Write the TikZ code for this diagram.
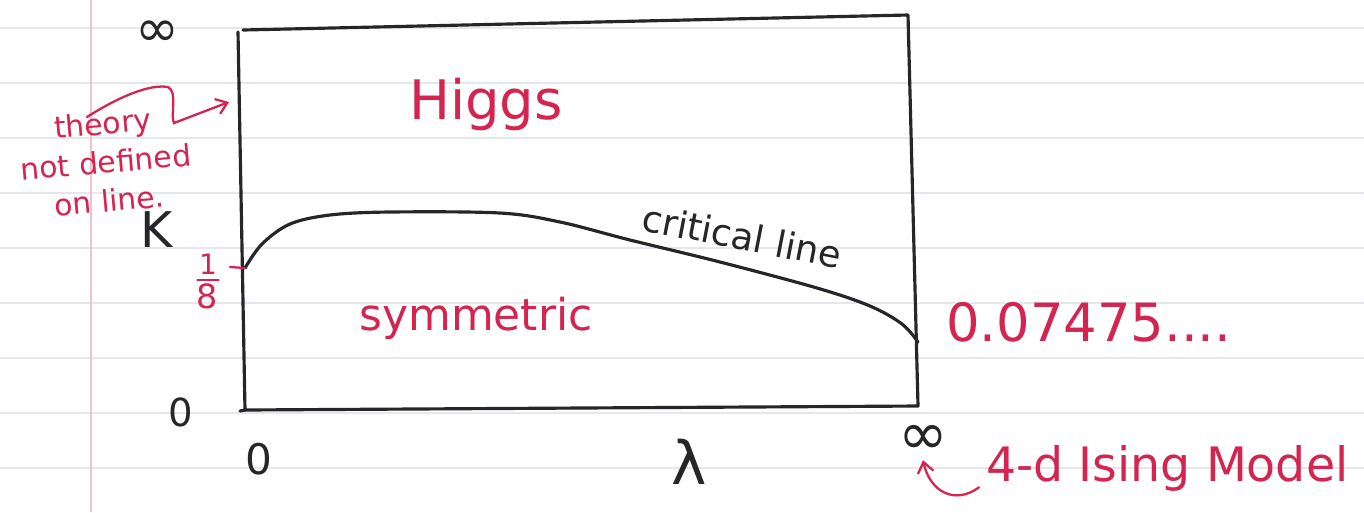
\documentclass[tikz,border=0pt]{standalone}
\usepackage{fontspec}
\setsansfont{DejaVu Sans}
\usetikzlibrary{arrows.meta, positioning}
\definecolor{ink}{RGB}{38,38,40}
\definecolor{pen}{RGB}{212,36,80}
\definecolor{rulecol}{RGB}{228,231,235}
\definecolor{margincol}{RGB}{243,192,208}

\begin{document}
\begin{tikzpicture}[
            x=0.02cm, y=-0.02cm,
            >=Latex,
            % Linhas do papel
            ruling/.style={draw=rulecol, line width=0.7pt},
            margin/.style={draw=margincol, line width=1pt},
            % Tinta preta (moldura e curva)
            frame/.style={
                draw=ink,
                line width=1.8pt,
                line cap=round,
                line join=round
            },
            % Textos pretos
            inktext/.style={text=ink, font=\sffamily, inner sep=0pt},
            % Textos vermelhos
            redtext/.style={text=pen, font=\sffamily, inner sep=0pt},
            % Tracos e setas vermelhas
            redline/.style={draw=pen, line width=1.3pt, line cap=round},
            pointer/.style={
                redline,
                -{Straight Barb[length=6pt, width=9pt]}
            }
        ]

            % Papel pautado
            \useasboundingbox (0,0) rectangle (1364,512);
            \fill[white] (0,0) rectangle (1364,512);
            \foreach \y in {28,83,...,468}
                \draw [ruling] (0,\y) -- (1364,\y);
            \draw [margin] (91,0) -- (91,512);

            % Cantos da moldura
            \coordinate (tl) at (238,32);
            \coordinate (bl) at (245,410);
            \coordinate (br) at (918,406);
            \coordinate (tr) at (908,15);
            \draw [frame] (243,30) -- (tr) -- (br) -- (bl) -- (tl);
            \draw [frame] (bl) -- (240,411);

            % Linha critica
            \coordinate (c0) at (245,268);
            \coordinate (c1) at (918,342);
            \draw [frame] plot [smooth, tension=0.55] coordinates {
                (c0) (262,244) (290,224) (330,215) (390,212) (500,213)
                (560,222) (630,240) (720,262) (817,288) (870,306) (902,324) (c1)};
            \node [inktext, font=\sffamily\fontsize{21}{24}\selectfont, rotate=-11]
                (crit) at (742,236) {critical line};

            % Rotulos dos eixos
            \node [inktext, font=\sffamily\fontsize{30}{32}\selectfont] (kinf) at (157,34) {∞};
            \node [inktext, font=\sffamily\fontsize{28}{30}\selectfont] (kappa) at (157,230) {K};
            \node [inktext, font=\sffamily\fontsize{22}{24}\selectfont] (kzero) at (181,412) {0};
            \node [inktext, font=\sffamily\fontsize{24}{26}\selectfont] (lzero) at (259,459) {0};
            \node [inktext, font=\sffamily\fontsize{34}{36}\selectfont] (lam) at (689,462) {λ};
            \node [inktext, font=\sffamily\fontsize{34}{36}\selectfont] (linf) at (923,440) {∞};

            % Valor 1/8 no eixo K
            \draw [redline] (230,267) -- (c0);
            \node [redtext, font=\sffamily\fontsize{16}{18}\selectfont] (one) at (208,264) {1};
            \node [redtext, font=\sffamily\fontsize{19}{21}\selectfont] (eight) at (207,296) {8};
            \draw [redline] ([xshift=-6pt, yshift=-3pt]one.south) -- ([xshift=6pt, yshift=-3pt]one.south);

            % Fases
            \node [redtext, font=\sffamily\fontsize{31}{34}\selectfont] (higgs) at (486,104) {Higgs};
            \node [redtext, font=\sffamily\fontsize{25}{28}\selectfont] (sym) at (476,318) {symmetric};
            \node [redtext, font=\sffamily\fontsize{30}{32}\selectfont, anchor=west]
                (ising) at (946,322) {0.07475....};

            % Notas com setas
            \node [redtext, font=\sffamily\fontsize{17}{22}\selectfont, align=center, rotate=5]
                (note) at (106,162) {theory\\not defined\\on line.};
            \coordinate (edge) at (229,102);
            \draw [pointer] (87,117) .. controls (120,96) and (150,84) .. (168,87)
                .. controls (178,92) and (170,115) .. (174,123) -- (edge);

            \node [redtext, font=\sffamily\fontsize{27}{30}\selectfont, anchor=west]
                (model) at (986,468) {4-d Ising Model};
            \draw [pointer] ([xshift=-4pt, yshift=-11pt]model.west)
                .. controls (955,505) and (930,492) .. ([yshift=-3pt]linf.south);

        \end{tikzpicture}
\end{document}
